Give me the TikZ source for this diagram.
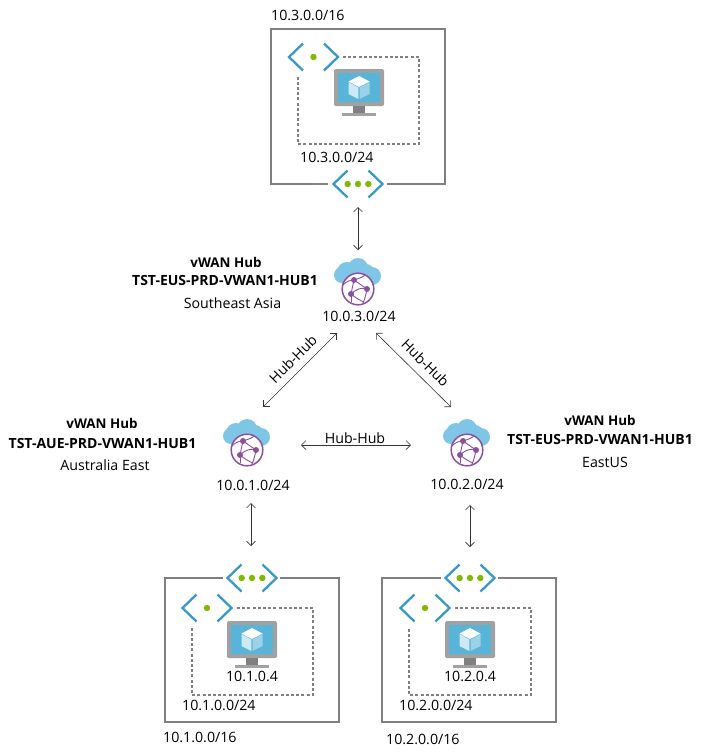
\documentclass[tikz,border=0pt]{standalone}
\usepackage{fontspec}
\usetikzlibrary{arrows.meta}
\setmainfont{Open Sans}
\definecolor{chev}{HTML}{3999C6}
\definecolor{dotg}{HTML}{7FBA00}
\definecolor{boxg}{HTML}{808080}
\definecolor{mong}{HTML}{A0A1A2}
\definecolor{scr}{HTML}{59B4D9}
\definecolor{cld}{HTML}{7FC6E6}
\definecolor{glob}{HTML}{8C4F9F}
\tikzset{
  x=1pt,y=-1pt,
  boxline/.style={draw=boxg,line width=1.8pt},
  dashline/.style={draw=boxg,line width=1.4pt,dash pattern=on 3pt off 2.2pt},
  arr/.style={draw=black!80,line width=0.6pt,{Straight Barb[length=4.5pt,width=9pt]}-{Straight Barb[length=4.5pt,width=9pt]}},
  txt/.style={font=\fontsize{14.2}{16}\selectfont,inner sep=0pt,text=black},
  btxt/.style={font=\fontsize{13.4}{16}\selectfont\bfseries,inner sep=0pt,text=black},
  bltxt/.style={font=\fontsize{14}{16}\selectfont\bfseries,inner sep=0pt,text=black},
  port/.style={inner sep=0pt,minimum size=0pt,outer sep=0pt},
  chevline/.style={draw=chev,line width=2.3pt,line cap=butt,line join=miter},
  pics/brackets/.style={code={
    \draw[chevline] (-10.5,-13.5) -- (-24.5,0) -- (-10.5,13.5);
    \draw[chevline] (10.5,-13.5) -- (24.5,0) -- (10.5,13.5);
    #1
  }},
  pics/vmicon/.style={code={
    \fill[mong,rounded corners=1.5pt] (-25,0) rectangle (25,37);
    \fill[scr] (-21,4) rectangle (21,33);
    \fill[boxg] (-6,37) rectangle (6,44);
    \fill[mong] (-17,44) rectangle (17,47);
    \fill[white!70!scr] (-10.5,13) -- (-0.7,18.5) -- (-0.7,30) -- (-10.5,25) -- cycle;
    \fill[white!40!scr] (10.5,13) -- (0.7,18.5) -- (0.7,30) -- (10.5,25) -- cycle;
    \fill[white] (0,7) -- (10.5,12.5) -- (0,18) -- (-10.5,12.5) -- cycle;
  }},
  pics/hubicon/.style={code={
    \fill[cld] (-16,-14) circle (8);
    \fill[cld] (-11,-17) circle (10);
    \fill[cld] (0,-21) circle (10);
    \fill[cld] (14,-13) circle (9);
    \fill[cld] (8,-17) circle (8);
    \fill[cld] (-16,-16) rectangle (14,-5);
    \fill[white] (0,0) circle (15.8);
    \draw[glob,line width=1.5pt] (0,0) circle (15.8);
    \draw[glob,line width=0.9pt] (-4,-9) .. controls (2,-11) and (5,-12) .. (7,-14);
    \draw[glob,line width=0.9pt] (-4,-9) -- (9,0);
    \draw[glob,line width=0.9pt] (-4,-9) -- (-7,5);
    \draw[glob,line width=0.9pt] (-7,5) .. controls (-2,0) and (4,-2) .. (9,0);
    \draw[glob,line width=0.9pt] (-7,5) .. controls (-2,9) and (3,12) .. (6,13);
    \draw[glob,line width=0.9pt] (9,0) .. controls (8,5) and (7,10) .. (5,14);
    \draw[glob,line width=0.9pt] (-4,-9) .. controls (-9,-9) and (-12,-7) .. (-15,-4);
    \draw[glob,line width=0.9pt] (-7,5) -- (-7,13);
    \fill[glob] (-4,-9) circle (3) (9,0) circle (3) (-7,5) circle (3);
  }}
}
\newcommand{\threedots}{\fill[dotg] (-10.3,0) circle (3.2) (0,0) circle (3.2) (10.3,0) circle (3.2);}
\newcommand{\onedot}{\fill[dotg] (0,0) circle (3.2);}
\begin{document}
\begin{tikzpicture}
\useasboundingbox (0,0) rectangle (702,756);
\fill[white] (0,0) rectangle (702,756);

% top VNet
\draw[boxline] (328,184) -- (271,184) -- (271,29) -- (445,29) -- (445,184) -- (387,184);
\draw[dashline] (343,57) -- (419,57) -- (419,144) -- (298,144) -- (298,76);
\pic at (358,184) {brackets={\threedots}};
\pic at (313.5,57) {brackets={\onedot}};
\pic at (359,69) {vmicon};
\node[txt,anchor=west] (t3a) at (271,15) {10.3.0.0/16};
\node[txt,anchor=west] (t3b) at (300,157) {10.3.0.0/24};

% bottom left VNet
\draw[boxline] (223,578) -- (165,578) -- (165,722) -- (339,722) -- (339,578) -- (280,578);
\draw[dashline] (237,608) -- (313,608) -- (313,695) -- (192,695) -- (192,628);
\pic at (252,578) {brackets={\threedots}};
\pic at (207,608) {brackets={\onedot}};
\pic at (252,621) {vmicon};
\node[txt] (t1v) at (252,676) {10.1.0.4};
\node[txt,anchor=west] (t1b) at (182,705) {10.1.0.0/24};
\node[txt,anchor=west] (t1a) at (163,737) {10.1.0.0/16};

% bottom right VNet
\draw[boxline] (441,578) -- (382,578) -- (382,722) -- (556,722) -- (556,578) -- (498,578);
\draw[dashline] (455,608) -- (531,608) -- (531,695) -- (409,695) -- (409,628);
\pic at (470,578) {brackets={\threedots}};
\pic at (425,608) {brackets={\onedot}};
\pic at (470,621) {vmicon};
\node[txt] (t2v) at (470,676) {10.2.0.4};
\node[txt,anchor=west] (t2b) at (399,705) {10.2.0.0/24};
\node[txt,anchor=west] (t2a) at (386,739) {10.2.0.0/16};

% hubs
\pic at (358,289) {hubicon};
\pic at (247,450) {hubicon};
\pic at (467,450) {hubicon};
\node[txt] (h3ip) at (359,316) {10.0.3.0/24};
\node[txt] (h1ip) at (253,485) {10.0.1.0/24};
\node[txt] (h2ip) at (467,484) {10.0.2.0/24};

\node[btxt] (h3a) at (226,262) {vWAN Hub};
\node[bltxt] (h3b) at (225,280) {TST-EUS-PRD-VWAN1-HUB1};
\node[txt] (h3c) at (232.5,303) {Southeast Asia};
\node[btxt] (h1a) at (102,423) {vWAN Hub};
\node[bltxt] (h1b) at (102.5,443) {TST-AUE-PRD-VWAN1-HUB1};
\node[txt] (h1c) at (105,465) {Australia East};
\node[btxt] (h2a) at (600,420) {vWAN Hub};
\node[bltxt] (h2b) at (600,439) {TST-EUS-PRD-VWAN1-HUB1};
\node[txt] (h2c) at (605,462) {EastUS};

% connectors
\node[port] (a3s) at (358,207) {};
\node[port] (a3e) at (358,250) {};
\node[port] (d1a) at (337,333) {};
\node[port] (d1b) at (263,407) {};
\node[port] (d2a) at (376,333) {};
\node[port] (d2b) at (451,407) {};
\node[port] (ha) at (301,445) {};
\node[port] (hb) at (411,445) {};
\node[port] (a1a) at (251,503) {};
\node[port] (a1b) at (251,546) {};
\node[port] (a2a) at (470,505) {};
\node[port] (a2b) at (470,547) {};
\draw[arr] (a3s) -- (a3e);
\draw[arr] (d1a) -- (d1b);
\draw[arr] (d2a) -- (d2b);
\draw[arr] (ha) -- (hb);
\draw[arr] (a1a) -- (a1b);
\draw[arr] (a2a) -- (a2b);
\node[txt,rotate=45] (l1) at (293,359) {Hub-Hub};
\node[txt,rotate=-45] (l2) at (425.5,363) {Hub-Hub};
\node[txt] (l3) at (355,438) {Hub-Hub};
\end{tikzpicture}
\end{document}
